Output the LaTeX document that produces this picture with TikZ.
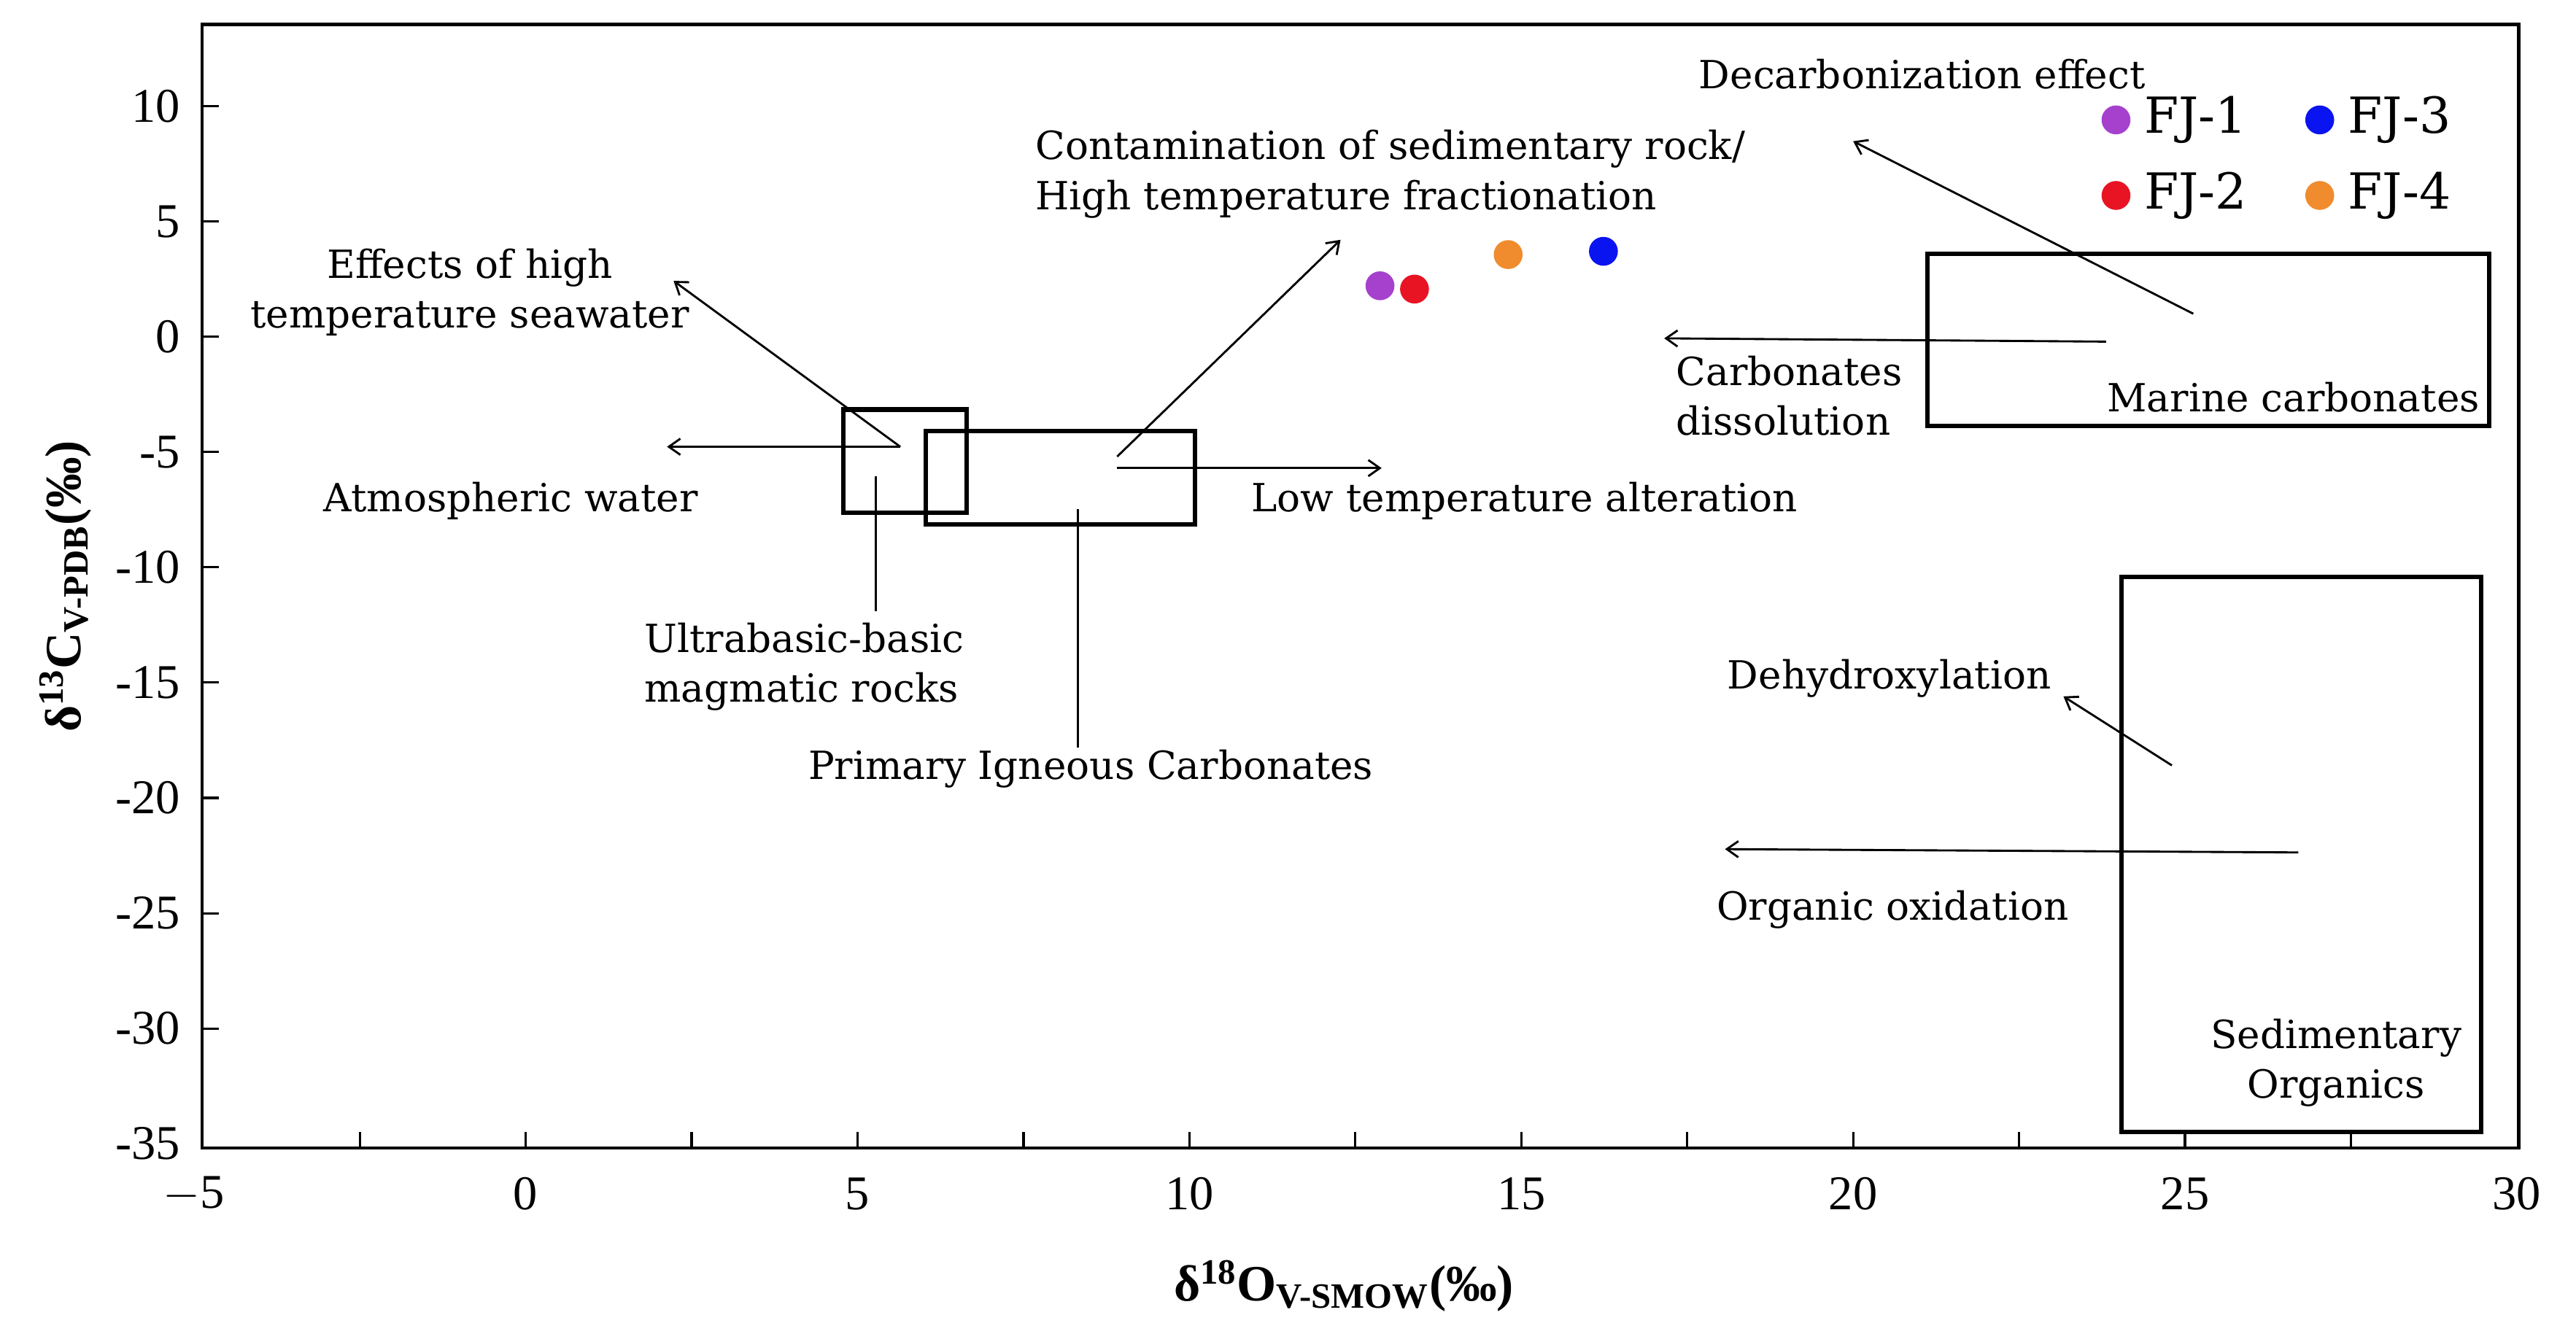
\documentclass[tikz,border=0pt]{standalone}
\usepackage{fontspec}
\setmainfont{Liberation Serif}
\newfontfamily\wide{DejaVu Serif}
\usetikzlibrary{arrows.meta}
\definecolor{cpur}{RGB}{165,65,205}
\definecolor{cred}{RGB}{232,20,35}
\definecolor{cblu}{RGB}{10,20,240}
\definecolor{cora}{RGB}{240,140,45}
\begin{document}
\begin{tikzpicture}[x=0.025cm,y=-0.025cm,
  lbl/.style={font=\wide\fontsize{16.8}{21.5}\selectfont,inner sep=0pt},
  lbll/.style={lbl,align=left},
  lblc/.style={lbl,align=center},
  tick/.style={font=\fontsize{21}{24}\selectfont,inner sep=0pt},
  leg/.style={font=\wide\fontsize{21.5}{24}\selectfont,inner sep=0pt},
  box/.style={line width=1.9pt},
  arr/.style={line width=0.9pt,-{Straight Barb[length=5pt,width=7pt]}},
  ln/.style={line width=0.9pt},
  dot/.style={circle,minimum size=12.5pt,inner sep=0pt}]
\useasboundingbox (0,0) rectangle (1568,817);
\fill[white] (0,0) rectangle (1568,817);
% frame
\draw[line width=1.5pt] (123,15) rectangle (1533,699);
% x ticks
\foreach \v in {-2.5,0,2.5,...,27.5}{\draw[line width=1pt] ({320+40.4*\v},699) -- ({320+40.4*\v},689);}
\foreach \v/\t in {-5/$-$5,0/0,5/5,10/10,15/15,20/20,25/25,30/30}{\node[tick] at ({320+40.4*\v},727) {\t};}
% y ticks
\foreach \v in {10,5,...,-30}{\draw[line width=1pt] (123,{205-14.04*\v}) -- (133,{205-14.04*\v});}
\foreach \v in {10,5,...,-35}{\node[tick,anchor=east] at (110,{205-14.04*\v}) {\pgfmathparse{int(\v)}\pgfmathresult};}
% axis labels
\node[font=\fontsize{22}{26}\selectfont\bfseries,inner sep=0pt] (xl) at (818,783) {δ$^{\mathbf{18}}$O\textsubscript{V-SMOW}(‰)};
\node[font=\fontsize{22}{26}\selectfont\bfseries,inner sep=0pt,rotate=90] (yl) at (40,357) {δ$^{\mathbf{13}}$C\textsubscript{V-PDB}(‰)};
% boxes
\node[box,draw,minimum width=75*0.025cm,minimum height=63*0.025cm,anchor=north west] (ub) at (512,248) {};
\node[box,draw,minimum width=164*0.025cm,minimum height=57*0.025cm,anchor=north west] (pi) at (562,261) {};
\node[box,draw,minimum width=342*0.025cm,minimum height=105*0.025cm,anchor=north west] (mc) at (1172,153) {};
\node[box,draw,minimum width=219*0.025cm,minimum height=338*0.025cm,anchor=north west] (so) at (1290,350) {};
% labels
\node[lblc] (dec) at (1170,45) {Decarbonization effect};
\node[lbll,anchor=west] (con) at (630,106) {Contamination of sedimentary rock/\\High temperature fractionation};
\node[lblc] (eff) at (286,178) {Effects of high\\temperature seawater};
\node[lblc] (atm) at (311,305) {Atmospheric water};
\node[lbll,anchor=west] (ubl) at (392,406) {Ultrabasic-basic\\magmatic rocks};
\node[lblc] (pil) at (664,468) {Primary Igneous Carbonates};
\node[lblc] (low) at (928,305) {Low temperature alteration};
\node[lbll,anchor=west] (cd) at (1020,241) {Carbonates\\dissolution};
\node[lblc] (mcl) at (1396,242) {Marine carbonates};
\node[lblc] (dh) at (1150,413) {Dehydroxylation};
\node[lblc] (oo) at (1152,554) {Organic oxidation};
\node[lblc] (sol) at (1422,647) {Sedimentary\\Organics};
% connectors
\coordinate (a1) at (548,272);
\coordinate (e1) at (410,171);
\coordinate (e2) at (406,272);
\draw[arr] (a1) -- (e1);
\draw[arr] (a1) -- (e2);
\draw[ln] (533,290) -- (533,372);
\draw[ln] (656,310) -- (656,455);
\coordinate (b1) at (680,278);
\coordinate (b2) at (680,285);
\draw[arr] (b1) -- (816,146);
\draw[arr] (b2) -- (841,285);
\draw[arr] (1282,208) -- (1013,206);
\draw[arr] (1335,191) -- (1128,86);
\draw[arr] (1322,466) -- (1256,424);
\draw[arr] (1399,519) -- (1050,517);
% data
\node[dot,fill=cpur] (p1) at (840,174) {};
\node[dot,fill=cred] (p2) at (861,176) {};
\node[dot,fill=cora] (p4) at (918,155) {};
\node[dot,fill=cblu] (p3) at (976,153) {};
% legend
\node[dot,fill=cpur] (l1) at (1288,73) {};
\node[dot,fill=cblu] (l3) at (1412,73) {};
\node[dot,fill=cred] (l2) at (1288,119) {};
\node[dot,fill=cora] (l4) at (1412,119) {};
\node[leg,anchor=west] at (1305,73) {FJ-1};
\node[leg,anchor=west] at (1429,73) {FJ-3};
\node[leg,anchor=west] at (1305,119) {FJ-2};
\node[leg,anchor=west] at (1429,119) {FJ-4};
\end{tikzpicture}
\end{document}
